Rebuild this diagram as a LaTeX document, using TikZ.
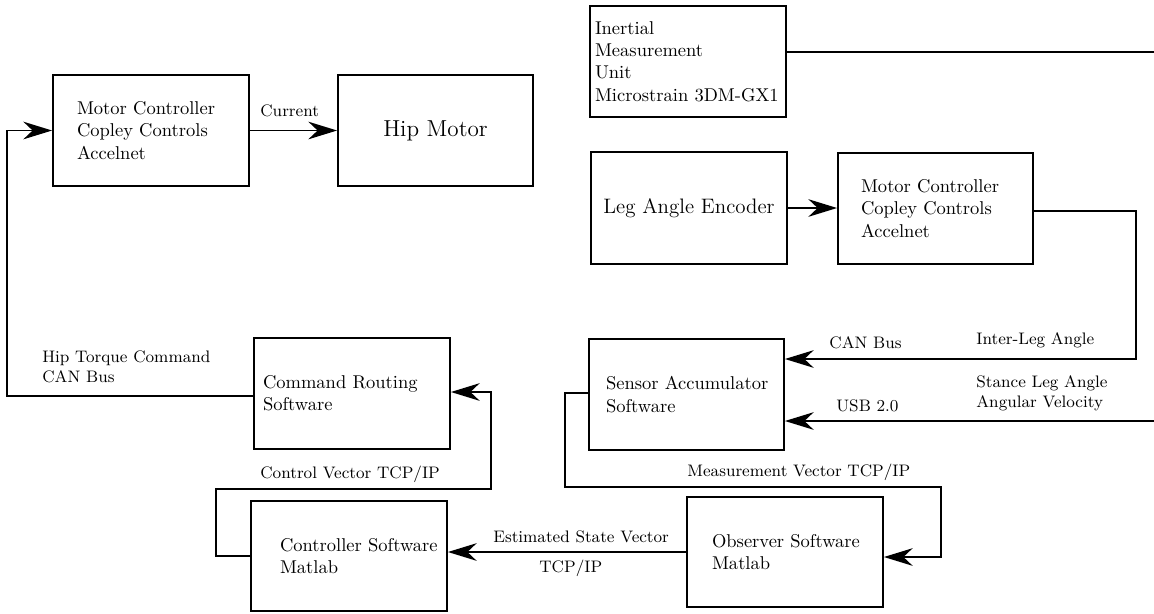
\documentclass[tikz,border=0pt]{standalone}
\usetikzlibrary{arrows.meta}
\begin{document}
\begin{tikzpicture}[x=0.54pt,y=-0.54pt,
  box/.style={draw, line width=1pt, inner ysep=0pt, align=left, font=\normalsize},
  lbl/.style={font=\small, inner sep=0pt, anchor=west, align=left},
  ln/.style={line width=1pt},
  arr/.style={ln, -{Stealth[length=15.5pt,width=9.5pt,inset=5pt]}}]
\useasboundingbox (0,0) rectangle (1154,613);
% boxes
\node[box, minimum height=59.94pt, text width=79.92pt, inner xsep=12.96pt] (mc1) at (151,130.5)
  {\mbox{Motor Controller}\\\mbox{Copley Controls}\\Accelnet};
\node[box, minimum height=59.94pt, minimum width=105.3pt, align=center, font=\fontsize{12.5}{15}\selectfont] (hip) at (435.5,130.5) {Hip Motor};
\node[box, minimum height=59.94pt, text width=100.44pt, inner xsep=2.7pt] (imu) at (688,61.5)
  {Inertial\\Measurement\\Unit\\\mbox{Microstrain 3DM-GX1}};
\node[box, minimum height=60.48pt, minimum width=105.84pt, align=center, font=\fontsize{11.3}{13.5}\selectfont] (leg) at (689,208) {\raisebox{-1.5pt}{Leg Angle Encoder}};
\node[box, minimum height=59.94pt, text width=80.46pt, inner xsep=12.42pt] (mc2) at (935.5,208.5)
  {\mbox{Motor Controller}\\\mbox{Copley Controls}\\Accelnet};
\node[box, minimum height=59.94pt, text width=96.12pt, inner xsep=4.86pt] (cr) at (352,393.5)
  {\mbox{Command Routing}\\Software};
\node[box, minimum height=59.94pt, text width=86.94pt, inner xsep=9.18pt] (sa) at (686.5,394.5)
  {\mbox{Sensor Accumulator}\\Software};
\node[box, minimum height=59.4pt, text width=74.52pt, inner xsep=15.66pt] (ctrl) at (349,556)
  {\mbox{Controller Software}\\Matlab};
\node[box, minimum height=59.4pt, text width=78.84pt, inner xsep=13.5pt] (obs) at (785,552)
  {\mbox{Observer Software}\\Matlab};
% free ends and corners
\coordinate (imuend) at (1154,52);
\coordinate (c2) at (1136,359);
\coordinate (usbend) at (1154,421);
\coordinate (m1) at (565,487);
\coordinate (m2) at (941,557);
\coordinate (k1) at (216,489);
\coordinate (k2) at (491,392);
% connectors
\draw[arr] (mc1.east) -- (hip.west);
\draw[arr] ([shift={(0,2.5)}]cr.west) -- ++(-246,0) |- (mc1.west);
\draw[ln] (imu.east |- imuend) -- (imuend);
\draw[arr] (leg.east) -- (leg.east -| mc2.west);
\draw[arr] ([shift={(0,2.5)}]mc2.east) -| (c2) -- (c2 -| sa.east);
\draw[arr] (usbend) -- (usbend -| sa.east);
\draw[arr] ([shift={(0,-1.5)}]sa.west) -| (m1) -| (m2) -- (m2 -| obs.east);
\draw[arr] (obs.west) -- (obs.west -| ctrl.east);
\draw[arr] (ctrl.west) -| (k1) -| (k2) -- (k2 -| cr.east);
% labels
\node[lbl] (lcur) at (260,111) {Current};
\node[lbl] (lhip) at (42,366.5) {Hip Torque Command\\CAN Bus};
\node[lbl] (linter) at (976,340) {Inter-Leg Angle};
\node[lbl] (lcan) at (829,343) {CAN Bus};
\node[lbl] (lstance) at (976,393) {Stance Leg Angle\\Angular Velocity};
\node[lbl] (lusb) at (836,406) {USB 2.0};
\node[lbl] (lmeas) at (687,472) {Measurement Vector TCP/IP};
\node[lbl] (lctrl) at (260,474) {Control Vector TCP/IP};
\node[lbl] (lest) at (493,537) {Estimated State Vector};
\node[lbl] (ltcp) at (539,568) {TCP/IP};
\end{tikzpicture}
\end{document}
